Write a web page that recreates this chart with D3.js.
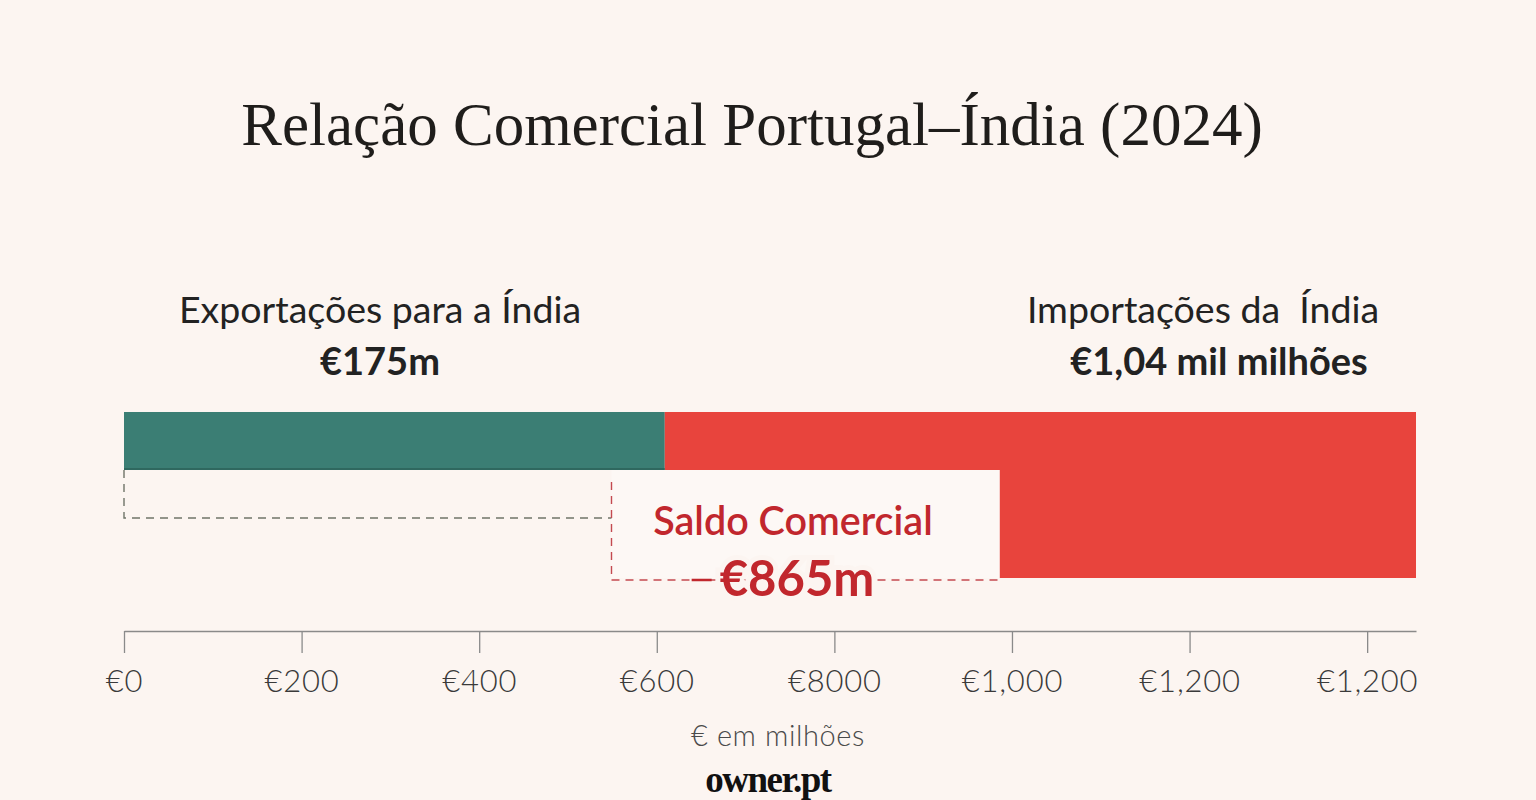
<!DOCTYPE html>
<html>
<head>
<meta charset="utf-8">
<script src="https://cdn.jsdelivr.net/npm/d3@7"></script>
<style>
  body { margin: 0; background: #fcf5f1; }
  svg { display: block; }
</style>
</head>
<body>
<svg id="chart" width="1536" height="800"></svg>
<script>
// values in the axis units (€ milhões, as drawn)
const flows = [
  {name: 'Exportações', start: 0, end: 609, color: '#3b7e74'},
  {name: 'Importações', start: 609, end: 1455, color: '#e8443d'}
];
const balanceBlock = [986, 1455];   // red block under the imports bar
const balanceBox = [549, 986];      // saldo label box
const exportBracket = [0, 549];     // grey dashed bracket
const tickValues = [0, 200, 400, 600, 800, 1000, 1200, 1400];
const tickLabels = ['€0', '€200', '€400', '€600', '€8000', '€1,000', '€1,200', '€1,200'];
const labels = [
  {title: 'Exportações para a Índia', value: '€175m', cx: 380, vx: 380},
  {title: 'Importações da  Índia', value: '€1,04 mil milhões', cx: 1203, vx: 1219}
];

const svg = d3.select('#chart');
const sans = 'Lato, "Open Sans", sans-serif';

const x = d3.scaleLinear().domain([0, 1455]).range([124, 1416]);
const barTop = 412, barH = 58, lowBottom = 578;

// title
svg.append('text')
  .attr('x', 752).attr('y', 145)
  .attr('text-anchor', 'middle')
  .attr('font-family', '"Liberation Serif", "DejaVu Serif", serif')
  .attr('font-size', 61)
  .attr('fill', '#1f1d1b')
  .text('Relação Comercial Portugal–Índia (2024)');

// flow labels
labels.forEach(function(l){
  svg.append('text')
    .attr('x', l.cx).attr('y', 323)
    .attr('text-anchor', 'middle')
    .attr('font-family', sans).attr('font-size', 37.5)
    .attr('fill', '#222')
    .attr('xml:space', 'preserve')
    .style('white-space', 'pre')
    .text(l.title);
  svg.append('text')
    .attr('x', l.vx).attr('y', 375)
    .attr('text-anchor', 'middle')
    .attr('font-family', sans).attr('font-size', 38).attr('font-weight', 700)
    .attr('fill', '#222')
    .text(l.value);
});

// lower red block + box
svg.append('rect')
  .attr('x', x(balanceBlock[0]))
  .attr('y', barTop + barH)
  .attr('width', x(balanceBlock[1]) - x(balanceBlock[0]))
  .attr('height', lowBottom - barTop - barH)
  .attr('fill', '#e8443d');

svg.append('rect')
  .attr('x', x(balanceBox[0]))
  .attr('y', barTop + barH)
  .attr('width', x(balanceBox[1]) - x(balanceBox[0]))
  .attr('height', lowBottom - barTop - barH)
  .attr('fill', '#fdf8f5');

// main bars
svg.selectAll('.bar')
  .data(flows)
  .enter().append('rect')
  .attr('class', 'bar')
  .attr('x', d => x(d.start))
  .attr('y', barTop)
  .attr('width', d => x(d.end) - x(d.start))
  .attr('height', barH)
  .attr('fill', d => d.color);

svg.append('line')
  .attr('x1', x(flows[0].start)).attr('x2', x(flows[0].end))
  .attr('y1', barTop + barH - 1).attr('y2', barTop + barH - 1)
  .attr('stroke', '#2d6259').attr('stroke-width', 1.5);

// grey dashed bracket under exports
svg.append('path')
  .attr('d', 'M' + x(exportBracket[0]) + ',' + (barTop + barH) +
             'V518H' + x(exportBracket[1]))
  .attr('fill', 'none')
  .attr('stroke', '#6f7468').attr('stroke-width', 1.4)
  .attr('stroke-dasharray', '8,6');

// red dashed bracket round the balance
svg.append('path')
  .attr('d', 'M' + x(balanceBox[0]) + ',482V580H' + x(balanceBox[1]))
  .attr('fill', 'none')
  .attr('stroke', '#c44a50').attr('stroke-width', 1.4)
  .attr('stroke-dasharray', '8,6');

svg.append('text')
  .attr('x', 793).attr('y', 535)
  .attr('text-anchor', 'middle')
  .attr('font-family', sans).attr('font-size', 39.5).attr('font-weight', 600)
  .attr('fill', '#c1272d')
  .text('Saldo Comercial');

const net = svg.append('text')
  .attr('x', 797).attr('y', 596)
  .attr('text-anchor', 'middle')
  .attr('font-family', sans).attr('font-size', 49).attr('font-weight', 700)
  .attr('fill', '#c1272d')
  .attr('stroke', '#fcf5f1').attr('stroke-width', 10)
  .attr('paint-order', 'stroke')
  .text('€865m');
const nb = net.node().getBBox();
svg.append('line')
  .attr('x1', nb.x - 28).attr('x2', nb.x - 8)
  .attr('y1', 580).attr('y2', 580)
  .attr('stroke', '#c1272d').attr('stroke-width', 2.5);

// axis
const axis = svg.append('g')
  .attr('transform', 'translate(0,631)')
  .call(d3.axisBottom(x)
    .tickValues(tickValues)
    .tickFormat((d, i) => tickLabels[i])
    .tickSize(22)
    .tickSizeOuter(0)
    .tickPadding(17));
axis.select('.domain').attr('stroke', '#8a8a8a').attr('stroke-width', 1.5);
axis.selectAll('.tick line').attr('stroke', '#8a8a8a').attr('stroke-width', 1.3);
axis.selectAll('.tick text')
  .attr('font-family', sans).attr('font-size', 31).attr('font-weight', 300)
  .attr('letter-spacing', 0.8)
  .attr('fill', '#3a3a3a');

svg.append('text')
  .attr('x', 778).attr('y', 746)
  .attr('text-anchor', 'middle')
  .attr('font-family', sans).attr('font-size', 29).attr('font-weight', 300)
  .attr('letter-spacing', 0.6)
  .attr('fill', '#4a4a4a')
  .text('€ em milhões');

svg.append('text')
  .attr('x', 768).attr('y', 792)
  .attr('text-anchor', 'middle')
  .attr('font-family', '"Liberation Serif", serif')
  .attr('font-size', 37).attr('font-weight', 700)
  .attr('fill', '#111')
  .attr('letter-spacing', -1.5)
  .text('owner.pt');
</script>
</body>
</html>
